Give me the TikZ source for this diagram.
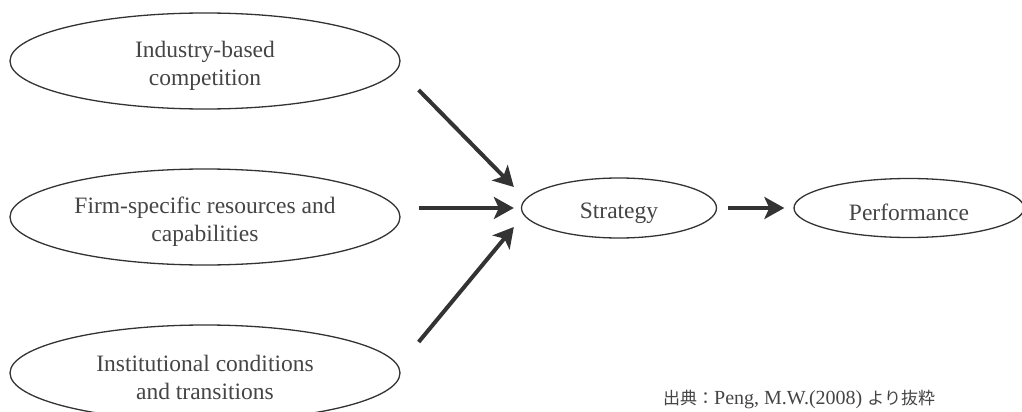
\documentclass[tikz,border=0pt]{standalone}
\usepackage{fontspec}
\setmainfont{Liberation Serif}
\newfontfamily\cjk{Noto Sans CJK JP}
\usetikzlibrary{shapes.geometric,arrows.meta,calc}
\definecolor{ink}{HTML}{333333}
\definecolor{txt}{HTML}{454545}
\newcommand{\padtop}{\rule{0pt}{26pt}}
\begin{document}
\begin{tikzpicture}[x=1pt,y=-1pt,
  oval/.style={draw=ink, line width=1.3pt, ellipse, inner sep=0pt, text=txt,
    font=\fontsize{23.5}{28}\selectfont, align=center},
  bigoval/.style={oval, minimum width=390pt, minimum height=96pt},
  arr/.style={draw=ink, line width=4pt, -{Stealth[length=20pt,width=22pt,inset=5pt]}}]
\useasboundingbox (0,0) rectangle (1022,412);
\clip (0,0) rectangle (1022,412);
\fill[white] (0,0) rectangle (1022,412);
\node[bigoval] (ind) at (205,61) {\padtop Industry-based\\competition};
\node[bigoval] (firm) at (205,217) {\padtop Firm-specific resources and\\capabilities};
\node[bigoval] (inst) at (205,373) {\padtop Institutional conditions\\and transitions};
\node[oval, minimum width=195pt, minimum height=60pt] (strat) at (619,208) {\padtop Strategy};
\node[oval, minimum width=230pt, minimum height=59pt] (perf) at (909,208) {\padtop Performance};
\draw[arr] ($(ind.east)+(18,29)$) -- ($(strat.west)+(-7,-21)$);
\draw[arr] ($(firm.east |- strat.west)+(18,0)$) -- ($(strat.west)+(-7,0)$);
\draw[arr] ($(inst.east)+(18,-31)$) -- ($(strat.west)+(-7,19)$);
\draw[arr, shorten <=11pt, shorten >=9pt] (strat.east) -- (perf.west);
\node[anchor=base west, inner sep=0pt, text=txt, font=\fontsize{20}{22}\selectfont] (src) at (663,404)
  {{\cjk\fontsize{17}{20}\selectfont 出典：}Peng, M.W.(2008) {\cjk\fontsize{17}{20}\selectfont より抜粋}};
\end{tikzpicture}
\end{document}
